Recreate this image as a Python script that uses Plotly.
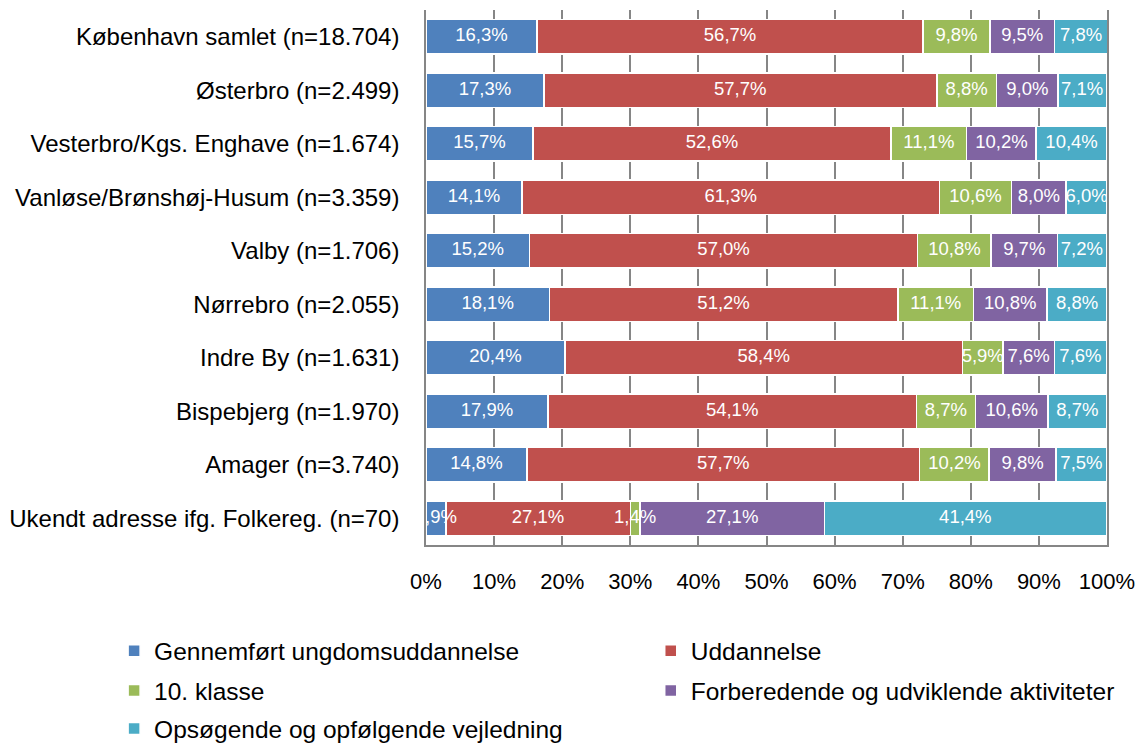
import plotly.graph_objects as go

categories = [
    "København samlet (n=18.704)",
    "Østerbro (n=2.499)",
    "Vesterbro/Kgs. Enghave (n=1.674)",
    "Vanløse/Brønshøj-Husum (n=3.359)",
    "Valby (n=1.706)",
    "Nørrebro (n=2.055)",
    "Indre By (n=1.631)",
    "Bispebjerg (n=1.970)",
    "Amager (n=3.740)",
    "Ukendt adresse ifg. Folkereg. (n=70)",
]

gennemfort = [16.3, 17.3, 15.7, 14.1, 15.2, 18.1, 20.4, 17.9, 14.8, 2.9]
uddannelse = [56.7, 57.7, 52.6, 61.3, 57.0, 51.2, 58.4, 54.1, 57.7, 27.1]
klasse10 = [9.8, 8.8, 11.1, 10.6, 10.8, 11.1, 5.9, 8.7, 10.2, 1.4]
forberedende = [9.5, 9.0, 10.2, 8.0, 9.7, 10.8, 7.6, 10.6, 9.8, 27.1]
opsogende = [7.8, 7.1, 10.4, 6.0, 7.2, 8.8, 7.6, 8.7, 7.5, 41.4]

tick_values = [0, 10, 20, 30, 40, 50, 60, 70, 80, 90, 100]
tick_labels = ["0%", "10%", "20%", "30%", "40%", "50%", "60%", "70%", "80%", "90%", "100%"]

series = [
    ("Gennemført ungdomsuddannelse", gennemfort, "#4F81BD"),
    ("Uddannelse", uddannelse, "#C0504D"),
    ("10. klasse", klasse10, "#9BBB59"),
    ("Forberedende og udviklende aktiviteter", forberedende, "#8064A2"),
    ("Opsøgende og opfølgende vejledning", opsogende, "#4BACC6"),
]

FONT = "Liberation Sans"
GRID = "#868686"

# page body has an 8px margin: figure is sized/offset to compensate
W, H = 1137, 736

legend_pos = [(-0.458, -0.198), (0.33, -0.198), (-0.458, -0.272), (0.33, -0.272), (-0.458, -0.343)]
legend_ids = ["legend", "legend2", "legend3", "legend4", "legend5"]

fig = go.Figure()
for (name, vals, color), lid in zip(series, legend_ids):
    fig.add_trace(go.Bar(
        name=name,
        y=categories,
        x=vals,
        orientation="h",
        marker=dict(color=color, line=dict(color="white", width=1.5)),
        hoverinfo="skip",
        legend=lid,
    ))

# data labels drawn above all bars (as in the original), centred in each segment
base = [0.0] * len(categories)
for name, vals, color in series:
    mids = [b + v / 2 for b, v in zip(base, vals)]
    fig.add_trace(go.Scatter(
        x=mids,
        y=categories,
        mode="text",
        text=[f"{v:.1f}%".replace(".", ",") for v in vals],
        textposition="middle center",
        textfont=dict(color="white", size=18.5, family=FONT),
        showlegend=False,
        hoverinfo="skip",
        cliponaxis=True,
    ))
    base = [b + v for b, v in zip(base, vals)]

layout_legends = {}
for lid, (lx, ly) in zip(legend_ids, legend_pos):
    layout_legends[lid] = dict(
        x=lx, xanchor="left",
        y=ly, yanchor="middle",
        orientation="v",
        font=dict(size=24.5, family=FONT, color="#000000"),
        itemwidth=30,
        bgcolor="rgba(0,0,0,0)",
    )

fig.update_layout(
    barmode="stack",
    bargap=0.36,
    width=W,
    height=H,
    margin=dict(l=418, r=38, t=2, b=199, autoexpand=False),
    paper_bgcolor="white",
    plot_bgcolor="white",
    font=dict(family=FONT, size=23, color="#000000"),
    showlegend=True,
    **layout_legends,
    xaxis=dict(
        range=[0, 100],
        tickvals=tick_values,
        ticktext=tick_labels,
        showgrid=True,
        gridcolor=GRID,
        gridwidth=1.5,
        zeroline=False,
        showline=True,
        linecolor=GRID,
        linewidth=1.5,
        ticks="",
        ticklabelstandoff=16,
        tickfont=dict(size=22, family=FONT),
        automargin=False,
        layer="below traces",
        fixedrange=True,
    ),
    yaxis=dict(
        autorange="reversed",
        showgrid=False,
        showline=True,
        mirror=True,
        linecolor=GRID,
        linewidth=1.5,
        ticks="",
        ticklabelstandoff=20,
        tickfont=dict(size=24, family=FONT),
        automargin=False,
        layer="below traces",
        fixedrange=True,
    ),
)

fig.write_html("out.html")
